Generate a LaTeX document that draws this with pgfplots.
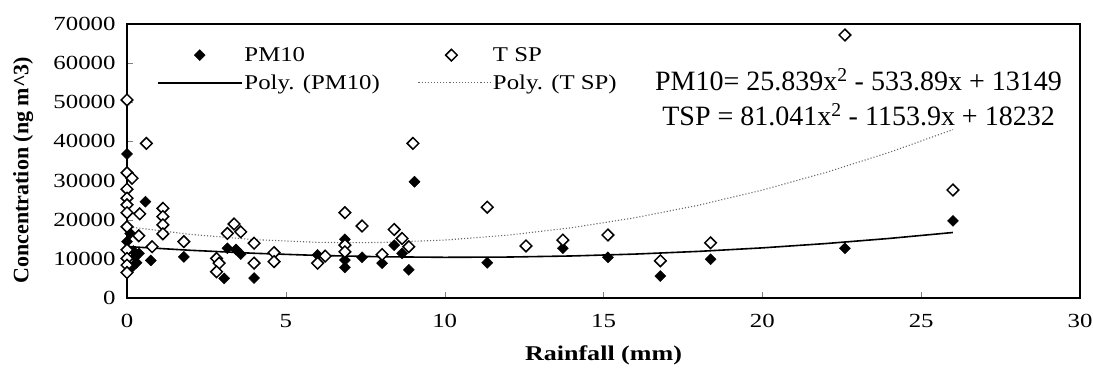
\documentclass[border=0pt]{standalone}
\usepackage{pgfplots}
\pgfplotsset{compat=1.18}
\usepackage{fontspec}
\setmainfont{Liberation Serif}
\newfontfamily\wide{Liberation Serif}[FakeStretch=1.24]
\newfontfamily\wider{Liberation Serif}[FakeStretch=1.18]
\pgfplotsset{
  legscatter/.style={legend image code/.code={\draw[mark repeat=2,mark phase=2,##1] plot coordinates {(0pt,0pt) (42pt,0pt) (84pt,0pt)};}},
  legscattertwo/.style={legend image code/.code={\draw[mark repeat=2,mark phase=2,##1] plot coordinates {(0pt,0pt) (33pt,0pt) (72pt,0pt)};}},
  legline/.style={legend image code/.code={\draw[##1] (0pt,0pt) -- (84pt,0pt);}},
  legdot/.style={legend image code/.code={\draw[##1] (0pt,0pt) -- (72pt,0pt);}},
}
\begin{document}
\begin{tikzpicture}[x=1pt,y=1pt]
\path[use as bounding box] (0,0) rectangle (1093,372);
\begin{axis}[
  at={(127pt,74pt)}, anchor=south west,
  width=953pt, height=274pt, scale only axis,
  xmin=0, xmax=30, ymin=0, ymax=70000,
  xtick={0,5,...,30}, ytick={0,10000,...,70000},
  scaled x ticks=false, scaled y ticks=false,
  xticklabels={0,5,10,15,20,25,30},
  yticklabels={0,10000,20000,30000,40000,50000,60000,70000},
  xtick pos=bottom, ytick pos=left, tick align=inside,
  major tick length=6pt,
  ticklabel style={font=\wide\fontsize{20}{24}\selectfont},
  xticklabel style={yshift=-13pt},
  yticklabel style={xshift=-8pt},
  axis line style={line width=1.3pt},
  xlabel={\wide\bfseries Rainfall (mm)},
  ylabel={\bfseries Concentration (ng m\textasciicircum 3)},
  xlabel style={font=\fontsize{21}{24}\selectfont, at={(axis description cs:0.5,-0.208)}, anchor=center},
  ylabel style={font=\fontsize{22}{26}\selectfont, at={(axis description cs:-0.109,0.467)}, anchor=center},
  legend columns=2,
  legend style={at={(axis description cs:0.028,0.93)}, anchor=north west,
    draw=none, fill=none, font=\wider\fontsize{21}{24}\selectfont,
    /tikz/every even column/.append style={column sep=36pt},
    row sep=8pt},
  legend cell align=left,
]
\addplot[only marks, mark=square*, mark size=3.9pt,
  mark options={rotate=45, fill=black, draw=black}, legscatter]
coordinates {
(0,36800) (0.58,24600) (0.1,16500) (0,14400) (0.2,12000) (0.38,11400) (0.25,10500)
(0.3,9000) (0.17,8000) (0.75,9600) (1.79,10500) (3.06,5000) (3.16,12700) (3.43,12400)
(3.58,11200) (4.0,5100) (6.0,11000) (6.86,15000) (6.86,9700) (6.86,7800) (7.4,10400)
(8.03,8900) (8.41,13500) (8.66,11400) (8.87,7200) (9.05,29700) (11.34,9000)
(13.72,12700) (15.14,10400) (16.79,5600) (18.37,9900) (22.6,12700) (26.0,19700)
};
\addlegendentry{PM10}
\addplot[only marks, mark=square*, mark size=4.1pt,
  mark options={rotate=45, fill=white, draw=black, line width=1.5pt}, legscattertwo]
coordinates {
(0,50600) (0.61,39500) (0,32000) (0.16,30600) (0,27800) (0,25500) (0,23800) (0,21800)
(0.4,21500) (1.13,22900) (1.13,20800) (1.13,18700) (1.13,16400) (0,18200) (0.37,15900)
(0,12300) (1.79,14400) (0.79,13100) (0,10100) (0,8400) (0,6500) (2.82,10100) (2.9,8900)
(2.82,6700) (3.37,18900) (3.58,16900) (3.16,16500) (4.0,14000) (4.0,8900) (4.63,11600)
(4.63,9300) (6.0,8900) (6.24,10700) (6.86,21800) (6.86,13500) (6.86,11800) (7.4,18400)
(8.03,11100) (8.41,17500) (8.66,15200) (8.87,13100) (9.0,39500) (11.34,23200)
(12.56,13300) (13.72,14800) (15.14,16100) (16.79,9500) (18.37,14100) (22.6,67200)
(26.0,27600)
};
\addlegendentry{T SP}
\addplot[black, line width=1.6pt, no marks, legline]
coordinates {
(0,13149) (2,12185) (4,11427) (6,10876) (8,10532) (10,10394) (12,10463) (14,10739)
(16,11222) (18,11911) (20,12807) (22,13910) (24,15219) (26,16735)
};
\addlegendentry{Poly. (PM10)}
\addplot[black!60, line width=1.1pt, dotted, no marks, legdot]
coordinates {
(0,18232) (2,16248) (4,14913) (6,14226) (7,14126) (8,14187) (10,14797) (12,16055)
(14,17961) (16,20516) (18,23719) (20,27570) (22,32070) (24,37218) (26,43014)
};
\addlegendentry{Poly. (T SP)}
\end{axis}
\node[anchor=east, font=\fontsize{28}{32}\selectfont, inner sep=0pt] at (1062,292)
  {PM10= 25.839x\textsuperscript{2} - 533.89x + 13149};
\node[anchor=east, font=\fontsize{28}{32}\selectfont, inner sep=0pt] at (1055,257)
  {TSP = 81.041x\textsuperscript{2} - 1153.9x + 18232};
\end{tikzpicture}
\end{document}
